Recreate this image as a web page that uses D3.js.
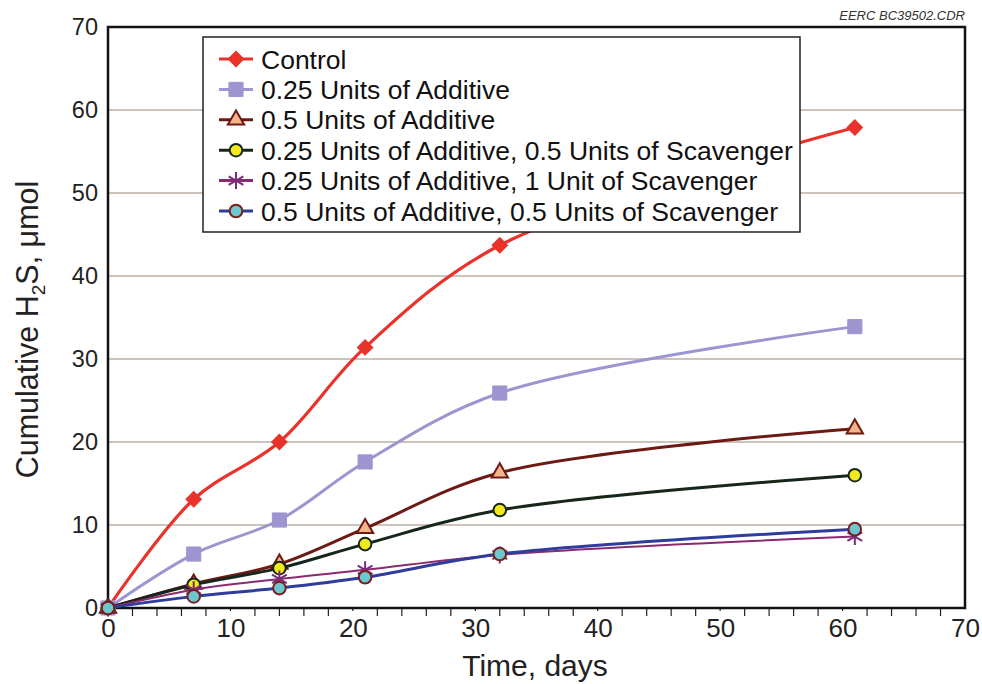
<!DOCTYPE html>
<html>
<head>
<meta charset="utf-8">
<script src="https://cdn.jsdelivr.net/npm/d3@7"></script>
<style>
  body { margin: 0; background: #fff; }
  svg { display: block; font-family: 'Liberation Sans', Arial, sans-serif; }
</style>
</head>
<body>
<svg id="chart" width="982" height="684"></svg>
<script>
// data
const days = [0, 7, 14, 21, 32, 61]
const control = [0, 13.1, 20, 31.4, 43.7, 57.9]
const add025 = [0, 6.5, 10.6, 17.6, 25.9, 33.9]
const add05 = [0, 2.9, 5.3, 9.6, 16.3, 21.6]
const add025Scav05 = [0, 2.8, 4.8, 7.7, 11.8, 16.0]
const add025Scav1 = [0, 2.2, 3.5, 4.6, 6.4, 8.6]
const add05Scav05 = [0, 1.4, 2.4, 3.7, 6.5, 9.5]

const seriesNames = [
  'Control',
  '0.25 Units of Additive',
  '0.5 Units of Additive',
  '0.25 Units of Additive, 0.5 Units of Scavenger',
  '0.25 Units of Additive, 1 Unit of Scavenger',
  '0.5 Units of Additive, 0.5 Units of Scavenger'
]
const seriesValues = [control, add025, add05, add025Scav05, add025Scav1, add05Scav05]

const xTicks = [0, 10, 20, 30, 40, 50, 60, 70]
const yTicks = [0, 10, 20, 30, 40, 50, 60, 70]

// styles per series
const styles = [
  { line: '#e8322a', width: 3.2, marker: 'diamond', fill: '#e8322a', stroke: '#e8322a' },
  { line: '#9d95d0', width: 3, marker: 'square', fill: '#9d95d0', stroke: '#9d95d0' },
  { line: '#6e1a14', width: 3, marker: 'triangle', fill: '#f4b48a', stroke: '#6e1a14' },
  { line: '#17261a', width: 3, marker: 'circle', fill: '#f2ea1c', stroke: '#17261a' },
  { line: '#8a2a70', width: 2, marker: 'star', fill: 'none', stroke: '#7a2a7a' },
  { line: '#2f3c9c', width: 3, marker: 'circle', fill: '#6cc8cf', stroke: '#7a1e1a' }
]

const svg = d3.select('#chart')
const x = d3.scaleLinear().domain([0, 70]).range([108, 965])
const y = d3.scaleLinear().domain([0, 70]).range([608, 27])

// gridlines
svg.append('g')
  .selectAll('line')
  .data(yTicks.filter(t => t > 0 && t < 70))
  .enter().append('line')
  .attr('x1', x(0)).attr('x2', x(70))
  .attr('y1', d => y(d)).attr('y2', d => y(d))
  .attr('stroke', '#cbc3bc').attr('stroke-width', 2)

// minor ticks every 2 days (just a dot at the labelled ones)
svg.append('g')
  .selectAll('line')
  .data(d3.range(2, 70, 2))
  .enter().append('line')
  .attr('x1', d => x(d)).attr('x2', d => x(d))
  .attr('y1', y(0)).attr('y2', d => y(0) + (d % 10 === 0 ? 3 : 8))
  .attr('stroke', '#222').attr('stroke-width', 1.2)

// x axis labels
const xAxis = d3.axisBottom(x).tickValues(xTicks).tickSize(0).tickPadding(10)
const gx = svg.append('g').attr('transform', `translate(0,${y(0)})`).call(xAxis)
gx.select('.domain').remove()
gx.selectAll('text')
  .attr('font-size', 26).attr('fill', '#222').attr('dy', '0.72em')
  .attr('font-family', "'Liberation Sans', Arial, sans-serif")

// y axis labels
const yAxis = d3.axisLeft(y).tickValues(yTicks).tickSize(0).tickPadding(10)
const gy = svg.append('g').attr('transform', `translate(${x(0)},0)`).call(yAxis)
gy.select('.domain').remove()
gy.selectAll('text')
  .attr('font-size', 23.5).attr('fill', '#222')
  .attr('font-family', "'Liberation Sans', Arial, sans-serif")

// plot frame
svg.append('rect')
  .attr('x', x(0)).attr('y', y(70))
  .attr('width', x(70) - x(0)).attr('height', y(0) - y(70))
  .attr('fill', 'none').attr('stroke', '#111').attr('stroke-width', 2.5)

// axis titles
svg.append('text')
  .attr('x', 535).attr('y', 676)
  .attr('text-anchor', 'middle').attr('font-size', 30).attr('fill', '#222')
  .text('Time, days')

const yTitle = svg.append('text')
  .attr('transform', `translate(38,${(y(0) + y(70)) / 2 + 12}) rotate(-90)`)
  .attr('text-anchor', 'middle').attr('font-size', 30.5).attr('fill', '#222')
yTitle.append('tspan').text('Cumulative H')
yTitle.append('tspan').attr('font-size', 19).attr('dy', 7).text('2')
yTitle.append('tspan').attr('dy', -7).text('S, μmol')

svg.append('text')
  .attr('x', 965).attr('y', 20)
  .attr('text-anchor', 'end').attr('font-size', 13).attr('font-style', 'italic')
  .attr('fill', '#333')
  .text('EERC BC39502.CDR')

// markers
function drawMarker (g, st, cx, cy) {
  if (st.marker === 'star') {
    const r = 8.5
    const path = d3.path()
    ;[90, 30, 150].forEach(a => {
      const rad = a * Math.PI / 180
      path.moveTo(cx - r * Math.cos(rad), cy - r * Math.sin(rad))
      path.lineTo(cx + r * Math.cos(rad), cy + r * Math.sin(rad))
    })
    g.append('path').attr('d', path.toString())
      .attr('stroke', st.stroke).attr('stroke-width', 2).attr('fill', 'none')
    return
  }
  const types = {
    diamond: [d3.symbolSquare, 120, 45],
    square: [d3.symbolSquare, 200, 0],
    triangle: [d3.symbolTriangle, 115, 0],
    circle: [d3.symbolCircle, 125, 0]
  }
  const t = types[st.marker]
  g.append('path')
    .attr('d', d3.symbol().type(t[0]).size(t[1])())
    .attr('transform', `translate(${cx},${cy}) rotate(${t[2]})`)
    .attr('fill', st.fill).attr('stroke', st.stroke)
    .attr('stroke-width', st.marker === 'diamond' || st.marker === 'square' ? 1 : 2)
}

const line = d3.line()
  .x(d => x(d[0])).y(d => y(d[1]))
  .curve(d3.curveCatmullRom.alpha(0.5))

seriesValues.forEach((vals, i) => {
  const st = styles[i]
  const pts = days.map((d, j) => [d, vals[j]])
  const g = svg.append('g')
  g.append('path').datum(pts)
    .attr('d', line)
    .attr('fill', 'none').attr('stroke', st.line).attr('stroke-width', st.width)
  pts.forEach(p => drawMarker(g, st, x(p[0]), y(p[1])))
})

// legend
const lg = svg.append('g')
lg.append('rect')
  .attr('x', 203).attr('y', 37).attr('width', 597).attr('height', 195)
  .attr('fill', '#fff').attr('stroke', '#222').attr('stroke-width', 1.5)
seriesNames.forEach((name, i) => {
  const st = styles[i]
  const cy = 59 + i * 30.4
  lg.append('line')
    .attr('x1', 219).attr('x2', 253).attr('y1', cy).attr('y2', cy)
    .attr('stroke', st.line).attr('stroke-width', 3)
  drawMarker(lg, st, 236, cy)
  lg.append('text')
    .attr('x', 261).attr('y', cy).attr('dy', '0.36em')
    .attr('font-size', 26.5).attr('fill', '#111')
    .text(name)
})
</script>
</body>
</html>
